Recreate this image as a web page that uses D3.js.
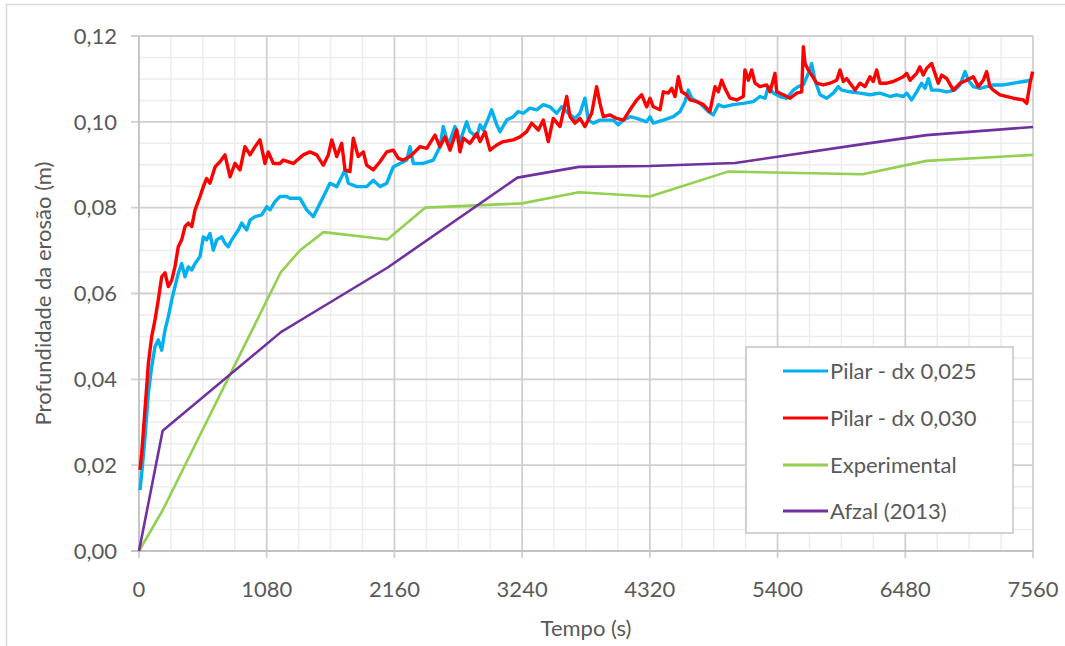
<!DOCTYPE html>
<html>
<head>
<meta charset="utf-8">
<script src="https://cdn.jsdelivr.net/npm/d3@7"></script>
<style>
  html, body { margin: 0; padding: 0; background: #fff; }
  svg { display: block; font-family: Lato, "Liberation Sans", sans-serif; }
</style>
</head>
<body>
<div id="chart"></div>
<script>
// tick labels
const xTickValues = [0, 1080, 2160, 3240, 4320, 5400, 6480, 7560];
const yTickValues = [0, 0.02, 0.04, 0.06, 0.08, 0.10, 0.12];

const seriesNames = ["Pilar - dx 0,025", "Pilar - dx 0,030", "Experimental", "Afzal (2013)"];
const seriesColors = ["#00b0f0", "#ff0000", "#92d050", "#7030a0"];

// [tempo (s), profundidade (m)]
const pilar025 = [
  [8,0.0142],[23,0.0181],[51,0.0266],[79,0.0367],[107,0.0429],[135,0.0476],[163,0.0492],[192,0.0468],
  [220,0.0515],[248,0.0546],[277,0.0585],[304,0.0616],[332,0.0647],[361,0.0670],[389,0.0639],[417,0.0662],
  [446,0.0655],[474,0.0670],[516,0.0686],[544,0.0732],[572,0.0725],[600,0.0740],[628,0.0701],[657,0.0725],
  [699,0.0732],[727,0.0717],[755,0.0709],[784,0.0725],[840,0.0748],[868,0.0764],[911,0.0748],[939,0.0771],
  [981,0.0779],[1038,0.0783],[1080,0.0802],[1108,0.0795],[1150,0.0814],[1192,0.0826],[1249,0.0826],[1277,0.0822],
  [1361,0.0822],[1418,0.0795],[1474,0.0779],[1531,0.0810],[1587,0.0841],[1615,0.0857],[1672,0.0849],[1714,0.0872],
  [1742,0.0888],[1770,0.0857],[1841,0.0849],[1925,0.0849],[1981,0.0864],[2038,0.0849],[2095,0.0857],[2150,0.0895],
  [2207,0.0903],[2264,0.0911],[2292,0.0942],[2320,0.0903],[2404,0.0903],[2489,0.0911],[2545,0.0942],[2573,0.0989],
  [2616,0.0946],[2672,0.0989],[2714,0.0954],[2771,0.1000],[2799,0.0977],[2856,0.0965],[2884,0.0993],[2912,0.0981],
  [2954,0.1008],[2982,0.1028],[3025,0.0993],[3053,0.0977],[3109,0.1004],[3165,0.1012],[3207,0.1024],[3250,0.1020],
  [3306,0.1032],[3363,0.1028],[3419,0.1040],[3475,0.1035],[3532,0.1020],[3574,0.1035],[3630,0.1020],[3687,0.1008],
  [3729,0.1020],[3771,0.1055],[3800,0.1004],[3842,0.0997],[3898,0.1004],[3955,0.1004],[4011,0.1004],[4053,0.0993],
  [4096,0.1004],[4152,0.1012],[4209,0.1008],[4293,0.1000],[4321,0.1012],[4349,0.0997],[4434,0.1004],[4518,0.1012],
  [4575,0.1024],[4617,0.1047],[4645,0.1074],[4674,0.1055],[4744,0.1043],[4814,0.1024],[4856,0.1016],[4899,0.1040],
  [4941,0.1035],[5026,0.1040],[5110,0.1043],[5195,0.1047],[5251,0.1059],[5294,0.1055],[5322,0.1082],[5364,0.1067],
  [5420,0.1059],[5477,0.1055],[5533,0.1074],[5575,0.1082],[5618,0.1086],[5660,0.1113],[5688,0.1136],[5716,0.1097],
  [5759,0.1063],[5815,0.1055],[5871,0.1067],[5914,0.1082],[5942,0.1074],[6013,0.1070],[6097,0.1067],[6181,0.1063],
  [6266,0.1067],[6351,0.1059],[6407,0.1063],[6463,0.1059],[6492,0.1067],[6534,0.1051],[6576,0.1070],[6618,0.1090],
  [6647,0.1078],[6675,0.1101],[6703,0.1074],[6759,0.1074],[6830,0.1070],[6900,0.1074],[6943,0.1086],[6985,0.1117],
  [7013,0.1097],[7055,0.1082],[7112,0.1078],[7168,0.1082],[7224,0.1086],[7309,0.1086],[7393,0.1090],[7478,0.1094],
  [7549,0.1097]
];

const pilar030 = [
  [8,0.0189],[23,0.0228],[65,0.0383],[79,0.0437],[107,0.0499],[135,0.0538],[163,0.0585],[192,0.0639],
  [220,0.0648],[248,0.0616],[277,0.0631],[304,0.0662],[332,0.0709],[361,0.0725],[389,0.0756],[417,0.0764],
  [446,0.0756],[474,0.0795],[516,0.0826],[544,0.0849],[572,0.0868],[600,0.0857],[643,0.0895],[685,0.0907],
  [727,0.0923],[770,0.0872],[812,0.0903],[854,0.0888],[896,0.0942],[939,0.0923],[981,0.0942],[1023,0.0958],
  [1065,0.0903],[1093,0.0930],[1136,0.0903],[1192,0.0903],[1220,0.0911],[1305,0.0903],[1389,0.0923],[1446,0.0930],
  [1503,0.0923],[1558,0.0899],[1601,0.0923],[1630,0.0958],[1672,0.0919],[1714,0.0950],[1742,0.0888],[1784,0.0884],
  [1812,0.0962],[1854,0.0919],[1897,0.0930],[1925,0.0899],[1981,0.0888],[2038,0.0907],[2095,0.0930],[2150,0.0934],
  [2193,0.0915],[2235,0.0911],[2292,0.0919],[2376,0.0942],[2433,0.0938],[2503,0.0969],[2545,0.0942],[2588,0.0965],
  [2630,0.0934],[2687,0.0981],[2714,0.0930],[2742,0.0962],[2799,0.0950],[2856,0.0973],[2884,0.0954],[2926,0.0977],
  [2968,0.0934],[3025,0.0946],[3081,0.0954],[3165,0.0958],[3222,0.0965],[3278,0.0977],[3321,0.0997],[3377,0.0981],
  [3419,0.1004],[3461,0.0954],[3503,0.1008],[3560,0.0989],[3617,0.1059],[3645,0.1012],[3687,0.0997],[3729,0.1008],
  [3771,0.0989],[3828,0.1020],[3870,0.1082],[3898,0.1043],[3926,0.1012],[3983,0.1016],[4040,0.1008],[4096,0.1004],
  [4152,0.1028],[4209,0.1051],[4251,0.1063],[4293,0.1035],[4321,0.1055],[4349,0.1035],[4406,0.1028],[4434,0.1070],
  [4476,0.1067],[4505,0.1078],[4533,0.1059],[4561,0.1105],[4589,0.1070],[4631,0.1063],[4659,0.1051],[4716,0.1047],
  [4772,0.1040],[4828,0.1024],[4871,0.1082],[4899,0.1070],[4927,0.1097],[4955,0.1078],[4998,0.1055],[5054,0.1051],
  [5110,0.1059],[5124,0.1121],[5153,0.1097],[5181,0.1121],[5209,0.1090],[5251,0.1082],[5308,0.1086],[5336,0.1070],
  [5378,0.1113],[5393,0.1070],[5449,0.1063],[5506,0.1055],[5562,0.1067],[5604,0.1070],[5618,0.1175],[5632,0.1136],
  [5660,0.1121],[5688,0.1109],[5731,0.1090],[5787,0.1086],[5843,0.1090],[5900,0.1097],[5928,0.1121],[5956,0.1094],
  [5984,0.1101],[6013,0.1090],[6055,0.1074],[6097,0.1090],[6139,0.1082],[6181,0.1105],[6209,0.1094],[6238,0.1121],
  [6266,0.1090],[6323,0.1090],[6379,0.1094],[6463,0.1105],[6492,0.1113],[6520,0.1097],[6576,0.1113],[6604,0.1128],
  [6632,0.1109],[6661,0.1125],[6703,0.1136],[6731,0.1113],[6759,0.1090],[6788,0.1109],[6830,0.1101],[6886,0.1074],
  [6943,0.1090],[6999,0.1097],[7055,0.1105],[7098,0.1082],[7140,0.1097],[7168,0.1117],[7196,0.1082],[7224,0.1074],
  [7281,0.1063],[7393,0.1055],[7478,0.1051],[7507,0.1043],[7535,0.1090],[7557,0.1117]
];

const experimental = [
  [0,0],[200,0.0095],[1200,0.0650],[1360,0.0700],[1560,0.0743],[2100,0.0726],[2420,0.0800],
  [3240,0.0810],[3720,0.0836],[4320,0.0826],[4980,0.0884],[6120,0.0878],[6660,0.0909],[7560,0.0923]
];

const afzal = [
  [0,0],[200,0.0280],[1200,0.0510],[1380,0.0540],[2100,0.0660],[3200,0.0870],[3720,0.0895],
  [4320,0.0897],[5040,0.0904],[6120,0.0948],[6660,0.0969],[7560,0.0988]
];

const seriesData = [pilar025, pilar030, experimental, afzal];

const W = 1065, H = 646;
const plot = { left: 139, right: 1033, top: 36, bottom: 551 };
const textColor = "#595959";
const fontSize = 22;

const svg = d3.select("#chart").append("svg")
  .attr("width", W).attr("height", H);

// outer chart frame (cropped at right/bottom)
svg.append("rect")
  .attr("x", 6.5).attr("y", 4.5)
  .attr("width", 1100).attr("height", 700)
  .attr("fill", "#fff").attr("stroke", "#d9d9d9").attr("stroke-width", 1.5);

const x = d3.scaleLinear().domain([0, 7560]).range([plot.left, plot.right]);
const y = d3.scaleLinear().domain([0, 0.12]).range([plot.bottom, plot.top]);

const ptBR = d3.formatLocale({ decimal: ",", thousands: ".", grouping: [3], currency: ["R$", ""] });
const fmtY = ptBR.format(".2f");

// minor grid
const minorX = d3.range(0, 7560 + 1, 270).filter(d => d % 1080 !== 0);
const minorY = d3.range(0, 0.1201, 0.005).filter((d, i) => i % 4 !== 0);
const grid = svg.append("g");
grid.selectAll(".mx").data(minorX).enter().append("line")
  .attr("x1", d => x(d)).attr("x2", d => x(d)).attr("y1", plot.top).attr("y2", plot.bottom)
  .attr("stroke", "#ededed").attr("stroke-width", 1.5);
grid.selectAll(".my").data(minorY).enter().append("line")
  .attr("x1", plot.left).attr("x2", plot.right).attr("y1", d => y(d)).attr("y2", d => y(d))
  .attr("stroke", "#ededed").attr("stroke-width", 1.5);

// major grid + ticks
grid.selectAll(".Mx").data(xTickValues).enter().append("line")
  .attr("x1", d => x(d)).attr("x2", d => x(d)).attr("y1", plot.top).attr("y2", plot.bottom + 7)
  .attr("stroke", "#d0d0d0").attr("stroke-width", 1.8);
grid.selectAll(".My").data(yTickValues).enter().append("line")
  .attr("x1", plot.left - 8).attr("x2", plot.right).attr("y1", d => y(d)).attr("y2", d => y(d))
  .attr("stroke", "#d0d0d0").attr("stroke-width", 1.8);

// axis lines
svg.append("line").attr("x1", plot.left).attr("x2", plot.left).attr("y1", plot.top).attr("y2", plot.bottom)
  .attr("stroke", "#c4c4c4").attr("stroke-width", 1.8);
svg.append("line").attr("x1", plot.left - 8).attr("x2", plot.right).attr("y1", plot.bottom).attr("y2", plot.bottom)
  .attr("stroke", "#c4c4c4").attr("stroke-width", 1.8);

// tick labels
svg.append("g").selectAll("text").data(yTickValues).enter().append("text")
  .attr("x", 117).attr("y", d => y(d)).attr("dy", "0.35em")
  .attr("text-anchor", "end").attr("fill", textColor).attr("font-size", fontSize)
  .text(d => fmtY(d));
svg.append("g").selectAll("text").data(xTickValues).enter().append("text")
  .attr("x", d => x(d)).attr("y", 597)
  .attr("text-anchor", "middle").attr("fill", textColor).attr("font-size", fontSize)
  .text(d => d);

// axis titles
svg.append("text").attr("x", (plot.left + plot.right) / 2).attr("y", 636)
  .attr("text-anchor", "middle").attr("fill", textColor).attr("font-size", fontSize)
  .text("Tempo (s)");
svg.append("text")
  .attr("transform", `translate(51,${(plot.top + plot.bottom) / 2}) rotate(-90)`)
  .attr("text-anchor", "middle").attr("fill", textColor).attr("font-size", fontSize)
  .text("Profundidade da erosão (m)");

// series
const line = d3.line().x(d => x(d[0])).y(d => y(d[1]));
const widths = [3.4, 3.4, 2.6, 2.6];
svg.append("g").selectAll("path").data(seriesData).enter().append("path")
  .attr("d", d => line(d))
  .attr("fill", "none")
  .attr("stroke", (d, i) => seriesColors[i])
  .attr("stroke-width", (d, i) => widths[i])
  .attr("stroke-linejoin", "round");

// legend
const lg = svg.append("g");
lg.append("rect").attr("x", 746).attr("y", 347).attr("width", 267).attr("height", 186)
  .attr("fill", "#fff").attr("stroke", "#c4c4c4").attr("stroke-width", 1.5);
const rowsY = [371, 418, 465, 511];
seriesNames.forEach((name, i) => {
  lg.append("line").attr("x1", 783).attr("x2", 828).attr("y1", rowsY[i]).attr("y2", rowsY[i])
    .attr("stroke", seriesColors[i]).attr("stroke-width", 3);
  lg.append("text").attr("x", 830).attr("y", rowsY[i]).attr("dy", "0.35em")
    .attr("fill", textColor).attr("font-size", fontSize).text(name);
});
</script>
</body>
</html>
